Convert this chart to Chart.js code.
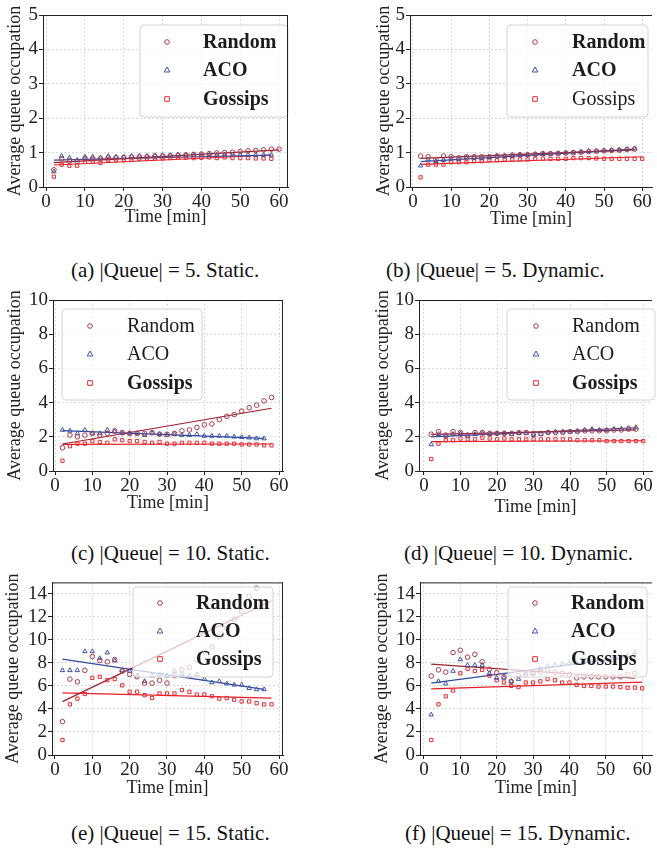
<!DOCTYPE html>
<html><head><meta charset="utf-8">
<script src="https://cdn.jsdelivr.net/npm/chart.js@4.4.1/dist/chart.umd.min.js"></script>
<style>
body{margin:0;background:#fff;width:657px;height:850px;position:relative;overflow:hidden;font-family:"Liberation Serif","Times New Roman",serif;}
canvas{position:absolute;}
.cap{position:absolute;font-size:21px;line-height:24px;color:#111;white-space:nowrap;}
</style></head><body>
<canvas id="ca"></canvas><canvas id="cb"></canvas><canvas id="cc"></canvas>
<canvas id="cd"></canvas><canvas id="ce"></canvas><canvas id="cf"></canvas>
<div class="cap" id="capa">(a) |Queue| = 5. Static.</div>
<div class="cap" id="capb">(b) |Queue| = 5. Dynamic.</div>
<div class="cap" id="capc">(c) |Queue| = 10. Static.</div>
<div class="cap" id="capd">(d) |Queue| = 10. Dynamic.</div>
<div class="cap" id="cape">(e) |Queue| = 15. Static.</div>
<div class="cap" id="capf">(f) |Queue| = 15. Dynamic.</div>
<script>
// ---------- data ----------
const minutes = [2,4,6,8,10,12,14,16,18,20,22,24,26,28,30,32,34,36,38,40,42,44,46,48,50,52,54,56,58,60];
const seriesNames = ['Random','ACO','Gossips'];
const xTicks = [0,10,20,30,40,50,60];
const yTicks5 = [0,1,2,3,4,5];
const yTicks10 = [0,2,4,6,8,10];
const yTicks15 = [0,2,4,6,8,10,12,14];
const xTitle = 'Time [min]';
const yTitle = 'Average queue occupation';

// (a) |Queue| = 5, static
const aRandom = [0.5,0.82,0.75,0.75,0.82,0.82,0.83,0.85,0.85,0.86,0.87,0.88,0.88,0.9,0.9,0.91,0.92,0.93,0.95,0.96,0.97,0.99,1.0,1.01,1.03,1.05,1.06,1.08,1.1,1.1];
const aACO = [0.45,0.9,0.85,0.78,0.88,0.88,0.85,0.9,0.88,0.88,0.9,0.9,0.9,0.92,0.92,0.92,0.94,0.94,0.93,0.93,0.93,0.93,0.94,0.94,0.94,0.93,0.93,0.93,0.93];
const aGossips = [0.3,0.65,0.62,0.62,0.73,0.73,0.7,0.78,0.78,0.78,0.8,0.82,0.82,0.83,0.83,0.84,0.85,0.85,0.84,0.85,0.86,0.84,0.86,0.84,0.84,0.84,0.83,0.83,0.82];
const aFitX = [[2,60],[2,58],[2,58]];
const aFitY = [[0.71,1.08],[0.78,0.93],[0.64,0.93]];

// (b) |Queue| = 5, dynamic
const bRandom = [0.9,0.88,0.8,0.9,0.88,0.85,0.88,0.88,0.88,0.88,0.9,0.9,0.93,0.94,0.94,0.95,0.97,0.97,0.98,0.99,1.0,1.01,1.03,1.04,1.05,1.06,1.07,1.09,1.1];
const bACO = [0.62,0.8,0.75,0.78,0.82,0.8,0.85,0.85,0.83,0.86,0.9,0.9,0.9,0.92,0.93,0.95,0.95,0.96,0.97,0.99,1.0,1.02,1.04,1.05,1.06,1.07,1.08,1.1,1.12];
const bGossips = [0.28,0.65,0.65,0.65,0.72,0.72,0.72,0.75,0.75,0.78,0.78,0.8,0.8,0.8,0.8,0.82,0.82,0.82,0.82,0.82,0.84,0.84,0.84,0.83,0.82,0.82,0.82,0.82,0.82,0.82];
const bFitX = [[2,58],[2,58],[2,60]];
const bFitY = [[0.83,1.08],[0.74,1.1],[0.66,0.88]];

// (c) |Queue| = 10, static
const cRandom = [1.36,2.1,2.0,2.1,2.2,2.1,2.2,2.35,2.25,2.2,2.2,2.2,2.25,2.15,2.15,2.2,2.35,2.4,2.55,2.7,2.75,3.0,3.2,3.3,3.5,3.7,3.85,4.1,4.3];
const cACO = [2.4,2.35,2.2,2.4,2.2,2.2,2.4,2.3,2.2,2.2,2.2,2.1,2.2,2.15,2.1,2.15,2.1,2.1,2.15,2.05,2.05,2.05,2.05,2.0,1.98,1.95,1.9,1.9];
const cGossips = [0.6,1.45,1.6,1.6,1.75,1.7,1.65,1.85,1.8,1.75,1.75,1.7,1.65,1.7,1.6,1.6,1.65,1.65,1.65,1.65,1.6,1.6,1.6,1.6,1.55,1.55,1.55,1.5,1.5];
const cFitX = [[2,58],[2,56],[2,58]];
const cFitY = [[1.58,3.67],[2.36,1.91],[1.56,1.58]];

// (d) |Queue| = 10, dynamic
const dRandom = [2.15,2.3,2.1,2.3,2.25,2.1,2.25,2.25,2.2,2.2,2.2,2.2,2.25,2.25,2.2,2.2,2.25,2.25,2.25,2.3,2.3,2.35,2.35,2.35,2.35,2.4,2.4,2.45,2.45];
const dACO = [1.55,2.15,2.05,2.15,2.2,2.05,2.15,2.2,2.15,2.2,2.2,2.15,2.2,2.2,2.1,2.15,2.25,2.3,2.3,2.3,2.35,2.4,2.45,2.4,2.4,2.45,2.45,2.5,2.55];
const dGossips = [0.7,1.6,1.8,1.8,1.9,1.85,1.85,1.95,1.9,1.85,1.9,1.85,1.85,1.85,1.85,1.85,1.85,1.85,1.85,1.85,1.8,1.8,1.8,1.8,1.75,1.75,1.75,1.75,1.75,1.75];
const dFitX = [[2,58],[2,58],[2,60]];
const dFitY = [[2.14,2.4],[2.0,2.53],[1.72,1.77]];

// (e) |Queue| = 15, static
const eRandom = [2.9,6.6,6.36,7.36,8.55,8.2,8.1,8.3,7.3,7.0,6.8,6.25,6.25,6.5,6.25,6.9,7.4,7.6,8.3,9.0,9.4,10.3,11.0,11.8,12.5,13.8,14.5];
const eACO = [7.36,7.36,7.36,9.0,9.0,8.4,8.9,8.2,7.36,7.3,6.9,6.4,6.9,7.0,6.9,7.3,7.0,6.9,7.0,6.6,6.3,6.4,6.2,6.1,6.1,5.8,5.7,5.7];
const eGossips = [1.3,4.4,4.9,5.3,6.7,6.8,6.5,6.6,6.05,5.5,5.5,5.2,4.95,5.35,5.35,5.35,5.65,5.5,5.25,5.25,5.1,4.9,4.95,4.8,4.65,4.65,4.5,4.4,4.4];
const eFitX = [[2,58],[2,56],[2,58]];
const eFitY = [[4.64,13.4],[8.33,5.7],[5.4,4.95]];

// (f) |Queue| = 15, dynamic
const fRandom = [6.86,7.4,7.2,8.9,9.1,8.5,8.75,8.1,7.45,7.15,6.8,6.4,6.9,7.0,7.1,7.2,7.4,7.2,7.1,7.0,6.7,6.8,6.8,6.8,6.8,6.8,6.8,7.0,7.1];
const fACO = [3.5,6.4,6.2,7.3,8.3,7.8,7.8,7.8,7.1,6.7,6.7,6.4,6.6,7.1,7.1,7.5,7.7,7.8,7.9,8.0,8.0,8.1,8.1,8.2,8.3,8.4,8.4,8.6,8.9];
const fGossips = [1.3,4.4,5.1,5.6,7.1,7.5,7.3,7.4,6.9,6.5,6.3,6.0,5.9,6.3,6.3,6.4,6.6,6.5,6.3,6.3,6.1,6.0,6.0,5.95,5.95,5.95,5.9,5.85,5.85,5.8];
const fFitX = [[2,58],[2,58],[2,60]];
const fFitY = [[7.9,6.67],[6.25,8.6],[5.75,6.33]];

// ---------- styles ----------
const FONT = '"Liberation Serif", "Times New Roman", serif';
const markerColors = ['#a83a48','#3d56a8','#e82a32'];
const lineColors = ['#a01e2c','#2f4aa0','#e81e26'];
const markerStyles = ['circle','triangle','rect'];

Chart.defaults.font.family = FONT;
Chart.defaults.color = '#222';

function drawMarker(ctx, style, x, y, color){
  ctx.save();
  ctx.strokeStyle = color; ctx.lineWidth = 1;
  ctx.beginPath();
  if (style === 'circle') { ctx.arc(x, y, 2.3, 0, Math.PI*2); }
  else if (style === 'triangle') { ctx.moveTo(x, y-3); ctx.lineTo(x+2.8, y+2); ctx.lineTo(x-2.8, y+2); ctx.closePath(); }
  else { ctx.rect(x-2.3, y-2.3, 4.6, 4.6); }
  ctx.stroke();
  ctx.restore();
}

const boxLegend = {
  id: 'boxLegend',
  afterDatasetsDraw(chart, args, o){
    if (!o || !o.box) return;
    const ctx = chart.ctx;
    const {x, y, w, h} = o.box, r = 4;
    ctx.save();
    ctx.beginPath();
    ctx.moveTo(x+r, y); ctx.lineTo(x+w-r, y); ctx.quadraticCurveTo(x+w, y, x+w, y+r);
    ctx.lineTo(x+w, y+h-r); ctx.quadraticCurveTo(x+w, y+h, x+w-r, y+h);
    ctx.lineTo(x+r, y+h); ctx.quadraticCurveTo(x, y+h, x, y+h-r);
    ctx.lineTo(x, y+r); ctx.quadraticCurveTo(x, y, x+r, y);
    ctx.closePath();
    ctx.fillStyle = 'rgba(255,255,255,0.72)';
    ctx.fill();
    ctx.strokeStyle = '#d4d4d4'; ctx.lineWidth = 1; ctx.stroke();
    o.rows.forEach((ry, i) => {
      drawMarker(ctx, markerStyles[i], o.mx, ry, markerColors[i]);
      ctx.font = (o.bold[i] ? 'bold ' : '') + '20px ' + FONT;
      ctx.fillStyle = '#1c1c1c';
      ctx.textBaseline = 'middle';
      ctx.textAlign = 'left';
      ctx.fillText(seriesNames[i], o.tx, ry + 1);
    });
    ctx.restore();
  },
  afterDraw(chart, args, o){
    const {left, top, right, bottom} = chart.chartArea;
    const ctx = chart.ctx;
    ctx.save();
    ctx.strokeStyle = '#222'; ctx.lineWidth = 1;
    ctx.beginPath();
    ctx.moveTo(left, top + 0.5); ctx.lineTo(right, top + 0.5);
    if (o && o.frameRight) { ctx.moveTo(right - 0.5, top); ctx.lineTo(right - 0.5, bottom); }
    ctx.stroke();
    ctx.restore();
  }
};

const panels = [
  {cv:'ca', cap:'capa', capC:165, capY:258, left:0, top:0, w:330, h:240, ca:{l:43,t:15,r:288,b:187}, xmin:-0.8, xmax:62.3, ymax:5, yt:yTicks5,
   yTitleX:15, xTitleY:217, vals:[aRandom,aACO,aGossips], fx:aFitX, fy:aFitY,
   lg:{x:140,y:25,w:148,h:92,mx:167,tx:203,rows:[42,70,99]}, bold:[1,1,1], frameRight:true},
  {cv:'cb', cap:'capb', capC:495, capY:258, left:330, top:0, w:327, h:240, ca:{l:410,t:15,r:657,b:187}, xmin:-0.77, xmax:62.56, ymax:5, yt:yTicks5,
   yTitleX:384, xTitleY:219, vals:[bRandom,bACO,bGossips], fx:bFitX, fy:bFitY,
   lg:{x:507,y:25,w:141,h:92,mx:535,tx:572,rows:[42,70,99]}, bold:[1,1,0], frameRight:false},
  {cv:'cc', cap:'capc', capC:170, capY:541, left:0, top:285, w:330, h:240, ca:{l:53,t:300,r:283,b:471}, xmin:-0.54, xmax:61.07, ymax:10, yt:yTicks10,
   yTitleX:15, xTitleY:503, vals:[cRandom,cACO,cGossips], fx:cFitX, fy:cFitY,
   lg:{x:62,y:309,w:140,h:91,mx:90,tx:127,rows:[326,354,383]}, bold:[0,0,1], frameRight:true},
  {cv:'cd', cap:'capd', capC:518, capY:541, left:330, top:285, w:327, h:240, ca:{l:419,t:300,r:657,b:471}, xmin:-1.34, xmax:62.4, ymax:10, yt:yTicks10,
   yTitleX:383, xTitleY:507, vals:[dRandom,dACO,dGossips], fx:dFitX, fy:dFitY,
   lg:{x:507,y:309,w:148,h:91,mx:536,tx:572,rows:[326,354,383]}, bold:[0,0,1], frameRight:false},
  {cv:'ce', cap:'cape', capC:170, capY:821, left:0, top:570, w:330, h:232, ca:{l:52,t:575,r:283,b:755}, xmin:-0.8, xmax:61.07, ymax:15, yt:yTicks15,
   yTitleX:13, xTitleY:788, vals:[eRandom,eACO,eGossips], fx:eFitX, fy:eFitY,
   lg:{x:133,y:587,w:140,h:90,mx:160,tx:196,rows:[603,631,659]}, bold:[1,1,1], frameRight:true},
  {cv:'cf', cap:'capf', capC:518, capY:821, left:330, top:570, w:327, h:232, ca:{l:420,t:575,r:657,b:755}, xmin:-1.08, xmax:62.7, ymax:15, yt:yTicks15,
   yTitleX:382, xTitleY:788, vals:[fRandom,fACO,fGossips], fx:fFitX, fy:fFitY,
   lg:{x:508,y:587,w:139,h:90,mx:535,tx:571,rows:[603,631,659]}, bold:[1,1,1], frameRight:false}
];

const TICK_FONT = {family: FONT, size: 19};
const TITLE_FONT = {family: FONT, size: 18};
const TITLE_LH = 18 * 1.2;

panels.forEach(p => {
  const cv = document.getElementById(p.cv);
  cv.width = p.w; cv.height = p.h;
  cv.style.left = p.left + 'px'; cv.style.top = p.top + 'px';
  const cap = document.getElementById(p.cap);
  cap.style.top = p.capY + 'px';
  cap.style.left = Math.round(p.capC - cap.offsetWidth / 2) + 'px';

  const datasets = [];
  p.vals.forEach((vals, i) => {
    datasets.push({
      type: 'scatter', label: seriesNames[i],
      data: vals.map((v, k) => ({x: minutes[k], y: v})),
      pointStyle: markerStyles[i], pointRadius: i === 1 ? 2.6 : 2.3,
      borderColor: markerColors[i], backgroundColor: 'rgba(0,0,0,0)', borderWidth: 1
    });
  });
  p.vals.forEach((vals, i) => {
    datasets.push({
      type: 'line', label: seriesNames[i] + ' fit',
      data: [{x: p.fx[i][0], y: p.fy[i][0]}, {x: p.fx[i][1], y: p.fy[i][1]}],
      borderColor: lineColors[i], borderWidth: 1.2, pointRadius: 0, fill: false, tension: 0
    });
  });

  new Chart(cv, {
    type: 'scatter',
    data: {datasets},
    options: {
      responsive: false, animation: false, devicePixelRatio: 1,
      layout: {padding: {left: 0, top: p.ca.t - p.top, right: (p.left + p.w) - p.ca.r, bottom: 0}},
      plugins: {
        legend: {display: false}, tooltip: {enabled: false},
        boxLegend: {box: {x: p.lg.x - p.left, y: p.lg.y - p.top, w: p.lg.w, h: p.lg.h},
                    mx: p.lg.mx - p.left, tx: p.lg.tx - p.left, rows: p.lg.rows.map(r => r - p.top),
                    bold: p.bold, frameRight: p.frameRight}
      },
      scales: {
        x: {
          type: 'linear', min: p.xmin, max: p.xmax,
          afterBuildTicks: s => { s.ticks = xTicks.map(v => ({value: v})); },
          afterFit: s => { s.height = (p.top + p.h) - p.ca.b; },
          ticks: {font: TICK_FONT, color: '#222', padding: 0, maxRotation: 0, autoSkip: false},
          grid: {color: '#d9d9d9', lineWidth: 1, tickColor: '#222', tickLength: 4},
          border: {display: true, color: '#222', width: 1, dash: [2, 2]},
          title: {display: true, text: xTitle, font: TITLE_FONT, color: '#222',
                  padding: {top: 0, bottom: (p.top + p.h) - p.xTitleY - TITLE_LH / 2}}
        },
        y: {
          type: 'linear', min: 0, max: p.ymax,
          afterBuildTicks: s => { s.ticks = p.yt.map(v => ({value: v})); },
          afterFit: s => { s.width = p.ca.l - p.left; },
          ticks: {font: TICK_FONT, color: '#222', padding: 1, autoSkip: false},
          grid: {color: '#d9d9d9', lineWidth: 1, tickColor: '#222', tickLength: 4},
          border: {display: true, color: '#222', width: 1, dash: [2, 2]},
          title: {display: true, text: yTitle, font: TITLE_FONT, color: '#222',
                  padding: {top: p.yTitleX - p.left - TITLE_LH / 2, bottom: 0}}
        }
      }
    },
    plugins: [boxLegend]
  });
});
</script>
</body></html>
